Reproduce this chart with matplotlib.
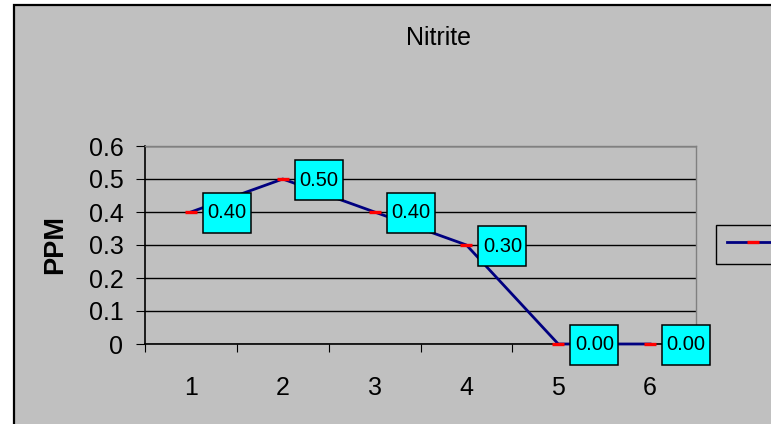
import matplotlib

matplotlib.use("Agg")
import matplotlib.pyplot as plt
from matplotlib.patches import Rectangle
from matplotlib.transforms import ScaledTranslation

plt.rcParams["font.family"] = ["Liberation Sans", "DejaVu Sans"]

# Excel-style chart chrome
CHART_BG = "#c0c0c0"
PLOT_EDGE = "#808080"
NAVY = "#000080"
MARKER_RED = "#ff0000"
LABEL_FILL = "#00ffff"

samples = [1, 2, 3, 4, 5, 6]
sample_labels = ["1", "2", "3", "4", "5", "6"]
nitrite_ppm = [0.40, 0.50, 0.40, 0.30, 0.00, 0.00]
y_ticks = [0, 0.1, 0.2, 0.3, 0.4, 0.5, 0.6]
y_tick_labels = ["0", "0.1", "0.2", "0.3", "0.4", "0.5", "0.6"]

W, H = 771, 424
fig = plt.figure(figsize=(W / 100, H / 100), dpi=100)
fig.patch.set_facecolor("white")

# chart area: gray panel with black frame (runs off the right/bottom edge)
fig.patches.append(Rectangle((14 / W, -0.02), 1.0, (H - 5) / H + 0.02,
                             transform=fig.transFigure, facecolor=CHART_BG,
                             edgecolor="black", linewidth=1.6, zorder=-5))

ax = fig.add_axes([145 / W, (H - 344) / H, 551 / W, 198 / H])
ax.set_facecolor(CHART_BG)
ax.set_xlim(0.5, 6.5)
ax.set_ylim(0, 0.6)

for side in ("top", "right"):
    ax.spines[side].set_color(PLOT_EDGE)
    ax.spines[side].set_linewidth(1.0)
for side in ("left", "bottom"):
    ax.spines[side].set_color("black")
    ax.spines[side].set_linewidth(1.2)

ax.set_yticks(y_ticks)
ax.set_yticklabels(y_tick_labels)
ax.yaxis.grid(True, color="black", linewidth=1.0)
ax.set_axisbelow(True)
ax.tick_params(axis="y", direction="out", length=6.5, width=0.8,
               pad=9, labelsize=18, colors="black")

# category axis: tick marks between categories, labels under each category
ax.set_xticks([i + 0.5 for i in range(0, 7)])
ax.set_xticklabels([])
ax.set_xticks(samples, minor=True)
ax.set_xticklabels(sample_labels, minor=True)
ax.tick_params(axis="x", which="major", direction="out", length=6, width=0.8)
ax.tick_params(axis="x", which="minor", length=0, pad=23, labelsize=18)

line, = ax.plot(samples, nitrite_ppm, color=NAVY, linewidth=2.0,
                marker="_", markersize=8, markeredgewidth=2.4,
                markeredgecolor=MARKER_RED, clip_on=False, zorder=3)

# value labels in cyan boxes to the right of each point (sizes in inches)
for x, v in zip(samples, nitrite_ppm):
    trans = fig.dpi_scale_trans + ScaledTranslation(x, v, ax.transData)
    ax.add_patch(Rectangle((0.12, -0.21), 0.48, 0.40, transform=trans,
                           facecolor=LABEL_FILL, edgecolor="black",
                           linewidth=1.1, clip_on=False, zorder=5))
    ax.text(0.36, -0.01, f"{v:.2f}", transform=trans, ha="center",
            va="center", fontsize=14.5, color="black", clip_on=False,
            zorder=6)

fig.text(438 / W, 1 - 38 / H, "Nitrite", ha="center", va="center",
         fontsize=18, color="black")
fig.text(55 / W, 1 - 244 / H, "PPM", rotation=90, ha="center", va="center",
         fontsize=19.5, fontweight="bold", color="black")

# legend key only; its box runs past the right edge
leg = fig.legend(handles=[line], labels=[""], loc="center left",
                 bbox_to_anchor=(716 / W, 1 - 244 / H), borderaxespad=0,
                 frameon=True, fancybox=False, fontsize=14, borderpad=0.55,
                 handlelength=2.7, handletextpad=0.5, framealpha=1)
leg.get_frame().set_facecolor(CHART_BG)
leg.get_frame().set_edgecolor("black")
leg.get_frame().set_linewidth(1.0)

fig.savefig("out.png", dpi=100, facecolor="white")
